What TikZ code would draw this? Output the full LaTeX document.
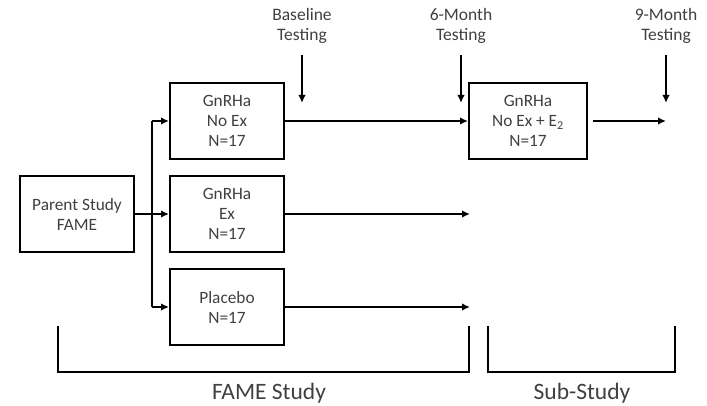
\documentclass[tikz,border=0pt]{standalone}
\usepackage{fontspec}
\setmainfont{Carlito}
\usetikzlibrary{arrows.meta}
\definecolor{txt}{HTML}{404040}
\tikzset{
  x=1pt,y=-1pt,
  box/.style={draw=black,line width=2pt,minimum width=114pt,minimum height=76pt,inner sep=0pt,align=center,text=txt,font=\fontsize{17.3}{20}\selectfont},
  lbl/.style={align=center,text=txt,font=\fontsize{17.5}{20}\selectfont,inner sep=0pt},
  big/.style={text=txt,font=\fontsize{23.5}{26}\selectfont,inner sep=0pt,anchor=base},
  line/.style={line width=2pt},
  arr/.style={line width=2pt,-{Latex[length=8pt,width=7.5pt]}}
}
\begin{document}
\begin{tikzpicture}
\useasboundingbox (0,0) rectangle (707,406);
\node[box] (par) at (77,214) {Parent Study\\FAME};
\node[box] (noex) at (227,121) {GnRHa\\No Ex\\N=17};
\node[box] (ex) at (227,214) {GnRHa\\Ex\\N=17};
\node[box] (pl) at (227,307) {Placebo\\N=17};
\node[box,minimum width=118pt] (sub) at (528,121) {GnRHa\\No Ex + E\textsubscript{2}\\N=17};

\coordinate (tt) at (152,121);
\coordinate (tb) at (152,307);
\draw[line] (tt) -- (tb);
\draw[arr] (tt) -- (noex.west);
\draw[arr] (tb) -- (pl.west);
\draw[arr] (par.east) -- (ex.west);

\coordinate (exend) at (470,214);
\coordinate (plend) at (470,307);
\coordinate (subend) at (666,121);
\draw[arr] (noex.east) -- (sub.west);
\draw[arr] (ex.east) -- (exend);
\draw[arr] (pl.east) -- (plend);
\draw[arr] (sub.east) ++(5,0) coordinate (subo) (subo) -- (subend);

\node[lbl] (bl) at (302,26) {Baseline\\Testing};
\node[lbl] (m6) at (461,26) {6-Month\\Testing};
\node[lbl] (m9) at (666,26) {9-Month\\Testing};
\coordinate (bla) at (302,55); \coordinate (blb) at (302,103);
\coordinate (m6a) at (461,55); \coordinate (m6b) at (461,103);
\coordinate (m9a) at (666,55); \coordinate (m9b) at (666,103);
\draw[arr] (bla) -- (blb);
\draw[arr] (m6a) -- (m6b);
\draw[arr] (m9a) -- (m9b);

\coordinate (f1) at (58,326); \coordinate (f2) at (469,326);
\coordinate (s1) at (488,326); \coordinate (s2) at (675,326);
\draw[line] (f1) -- (58,372) -- (469,372) -- (f2);
\draw[line] (s1) -- (488,372) -- (675,372) -- (s2);
\node[big] (fame) at (269,399.5) {FAME Study};
\node[big] (ss) at (582,399.5) {Sub-Study};
\end{tikzpicture}
\end{document}
